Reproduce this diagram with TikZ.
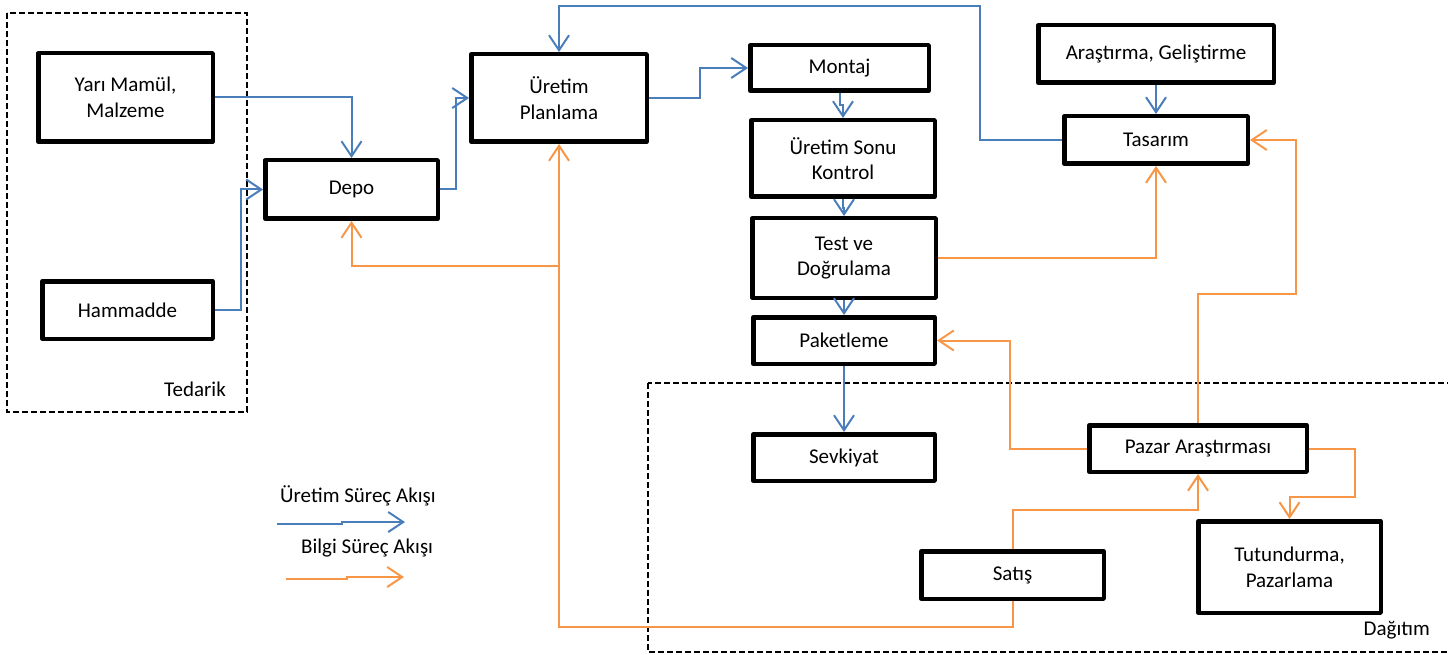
\documentclass[tikz,border=0pt]{standalone}
\usepackage{fontspec}
\setmainfont{Carlito}
\usetikzlibrary{arrows.meta}
\definecolor{flowblue}{RGB}{74,126,187}
\definecolor{floworange}{RGB}{247,150,70}
\begin{document}
\begin{tikzpicture}[x=1pt,y=-1pt,
  every node/.style={font=\fontsize{21}{25.6}\selectfont, inner sep=0pt},
  box/.style={draw=black, line width=4.5pt, line join=round, fill=white,
    align=center, minimum width=#1},
  box/.default=180pt,
  group/.style={draw=black, line width=2.2pt, dash pattern=on 6pt off 3pt},
  tipstyle/.style={-{Straight Barb[length=15pt,width=20pt]}},
  prod/.style={draw=flowblue, line width=2pt, tipstyle},
  info/.style={draw=floworange, line width=2pt, tipstyle},
  plain/.style={line width=2pt}]

\useasboundingbox (0,0) rectangle (1448,655);

% dashed group frames
\draw[group] (7,13) rectangle (247,412);
\draw[group] (648,383) rectangle (1470,652);
\node[anchor=base east] (lbltedarik) at (226,396) {Tedarik};
\node[anchor=base east] (lbldagitim) at (1430,635) {Dağıtım};

% process boxes
\node[box=174.5pt, minimum height=88.5pt] (yari) at (125.5,97.5) {Yarı Mamül,\\Malzeme};
\node[box=170.5pt, minimum height=57.5pt] (ham) at (127.5,310) {Hammadde};
\node[box=172.5pt, minimum height=58.5pt] (depo) at (351.5,189.5) {Depo};
\node[box=175.5pt, minimum height=87.5pt] (plan) at (559,98) {Üretim\\Planlama};
\node[box=178.5pt, minimum height=45.5pt] (montaj) at (839.5,68) {Montaj};
\node[box=183.5pt, minimum height=76.5pt] (usk) at (843,158.5) {Üretim Sonu\\Kontrol};
\node[box=183.5pt, minimum height=79.5pt] (test) at (844,258) {Test ve\\Doğrulama};
\node[box=181.5pt, minimum height=46.5pt] (paket) at (844,340.5) {Paketleme};
\node[box=181.5pt, minimum height=46.5pt] (sevk) at (844,457.5) {Sevkiyat};
\node[box=235.5pt, minimum height=57.5pt] (arge) at (1156,54) {Araştırma, Geliştirme};
\node[box=183.5pt, minimum height=47.5pt] (tasarim) at (1156,140) {Tasarım};
\node[box=217.5pt, minimum height=46.5pt] (pazar) at (1198,448.5) {Pazar Araştırması};
\node[box=182.5pt, minimum height=47.5pt] (satis) at (1012.5,575) {Satış};
\node[box=182.5pt, minimum height=91.5pt] (tutun) at (1289.5,567) {Tutundurma,\\Pazarlama};

% routing points
\coordinate (topR) at (980,6);
\coordinate (rightR) at (1296,294);
\coordinate (pzR) at (1355,497);
\coordinate (botL) at (559,627);
\coordinate (branch) at (559,266);

% production flow
\draw[prod] (yari.east) -| (depo.north);
\draw[prod] (ham.east) -- ++(26,0) |- (depo.west);
\draw[prod] (depo.east) -- ++(16,0) |- (plan.west);
\draw[prod] (plan.east) -- ++(51,0) |- (montaj.west);
\draw[prod] (montaj.south) -- ++(0,12) -| (usk.north);
\draw[prod] (usk.south) -- ++(0,9) -| (test.north);
\draw[prod] (test.south) -- ++(0,8) -| (paket.north);
\draw[prod] (paket.south) -- (sevk.north);
\draw[prod] (arge.south) -- (tasarim.north);
\draw[prod] (tasarim.west) -| (topR) -| (plan.north);

% information flow
\draw[info] (test.east) -| (tasarim.south);
\draw[info] (pazar.north) |- (rightR) |- (tasarim.east);
\draw[info] (pazar.west) -- ++(-77,0) |- (paket.east);
\draw[info] (pazar.east) -| (pzR) -| (tutun.north);
\draw[info] (satis.north) -- ++(0,-39) -| (pazar.south);
\draw[info] (satis.south) |- (botL) -- (plan.south);
\draw[info] (branch) -| (depo.south);

% legend
\node[anchor=base west] (lgprod) at (280,502) {Üretim Süreç Akışı};
\node[anchor=base west] (lginfo) at (301,553) {Bilgi Süreç Akışı};
\coordinate (lpA) at (277,524);
\coordinate (lpB) at (405,522);
\coordinate (liA) at (286,579);
\coordinate (liB) at (404,577);
\draw[prod] (lpA) -- (342,524) -- (342,522) -- (lpB);
\draw[info] (liA) -- (347,579) -- (347,577) -- (liB);
\end{tikzpicture}
\end{document}
